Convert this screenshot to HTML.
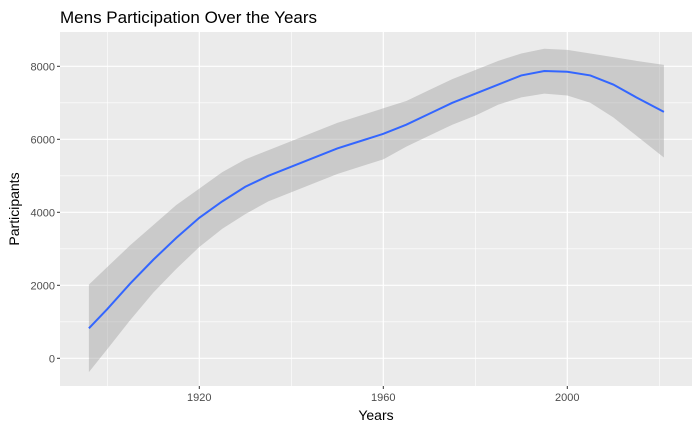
<!DOCTYPE html>
<html><head><meta charset="utf-8"><style>body{margin:0;background:#fff}svg{display:block;font-family:"Liberation Sans",sans-serif}</style></head>
<body>
<svg id="c" width="700" height="432"></svg>
<script>
const years=[1896,1900,1905,1910,1915,1920,1925,1930,1935,1940,1945,1950,1955,1960,1965,1970,1975,1980,1985,1990,1995,2000,2005,2010,2015,2021];
const fitValues=[820,1350,2050,2700,3300,3850,4300,4700,5000,5250,5500,5750,5950,6150,6400,6700,7000,7250,7500,7750,7870,7850,7750,7500,7150,6750];
const upperValues=[2020,2500,3100,3650,4200,4650,5100,5450,5700,5950,6200,6450,6650,6850,7050,7350,7650,7900,8150,8350,8480,8450,8350,8250,8150,8040];
const lowerValues=[-380,250,1050,1800,2450,3050,3550,3950,4300,4550,4800,5050,5250,5450,5800,6100,6400,6650,6950,7150,7250,7200,7000,6600,6100,5500];
const xTicks=[1920,1960,2000];
const xMinor=[1900,1940,1980,2020];
const yTicks=[0,2000,4000,6000,8000];
const yMinor=[-1000,1000,3000,5000,7000,9000];
const svg=document.getElementById('c');const NS='http://www.w3.org/2000/svg';
const L=60,R=692,T=32,B=386;
const x=v=>199.3+(v-1920)*4.6, y=v=>358.3-v*0.0365;
function mk(t,a,p){const e=document.createElementNS(NS,t);for(const k in a)e.setAttribute(k,a[k]);(p||svg).appendChild(e);return e;}
const panel=mk('rect',{x:L,y:T,width:R-L,height:B-T,fill:'#ebebeb'});


const cl=mk('clipPath',{id:'cp'});mk('rect',{x:L,y:T,width:R-L,height:B-T},cl);
yMinor.forEach(v=>{if(y(v)>T&&y(v)<B){const g=mk('line',{x1:L,x2:R,y1:y(v),y2:y(v),stroke:'#fff','stroke-width':0.6});}});
xMinor.forEach(v=>{const g=mk('line',{x1:x(v),x2:x(v),y1:T,y2:B,stroke:'#fff','stroke-width':0.6});});
yTicks.forEach(v=>{const g=mk('line',{x1:L,x2:R,y1:y(v),y2:y(v),stroke:'#fff','stroke-width':1.2});
const t=mk('line',{x1:L-3,x2:L,y1:y(v),y2:y(v),stroke:'#333'});
const l=mk('text',{x:L-5,y:y(v)+4,'text-anchor':'end','font-size':11,fill:'#4d4d4d'});l.textContent=v;});
xTicks.forEach(v=>{const g=mk('line',{x1:x(v),x2:x(v),y1:T,y2:B,stroke:'#fff','stroke-width':1.2});
const t=mk('line',{x1:x(v),x2:x(v),y1:B,y2:B+3,stroke:'#333'});
const l=mk('text',{x:x(v),y:B+15,'text-anchor':'middle','font-size':11,fill:'#4d4d4d'});l.textContent=v;});
let d='M'+years.map((yr,i)=>x(yr)+','+y(upperValues[i])).join('L');
for(let i=years.length-1;i>=0;i--)d+='L'+x(years[i])+','+y(lowerValues[i]);
const band=mk('path',{d:d+'Z',fill:'#999','fill-opacity':0.4,'clip-path':'url(#cp)'});


const line=mk('polyline',{points:years.map((yr,i)=>x(yr)+','+y(fitValues[i])).join(' '),fill:'none',stroke:'#3366ff','stroke-width':2});


const ti=mk('text',{x:L,y:23,'font-size':17,fill:'#000'});ti.textContent='Mens Participation Over the Years';


const xt=mk('text',{x:(L+R)/2,y:420,'text-anchor':'middle','font-size':14,fill:'#000'});xt.textContent='Years';


const yt=mk('text',{x:0,y:0,'text-anchor':'middle','font-size':14,fill:'#000',transform:'translate(19,'+((T+B)/2)+') rotate(-90)'});yt.textContent='Participants';


</script>
</body></html>
